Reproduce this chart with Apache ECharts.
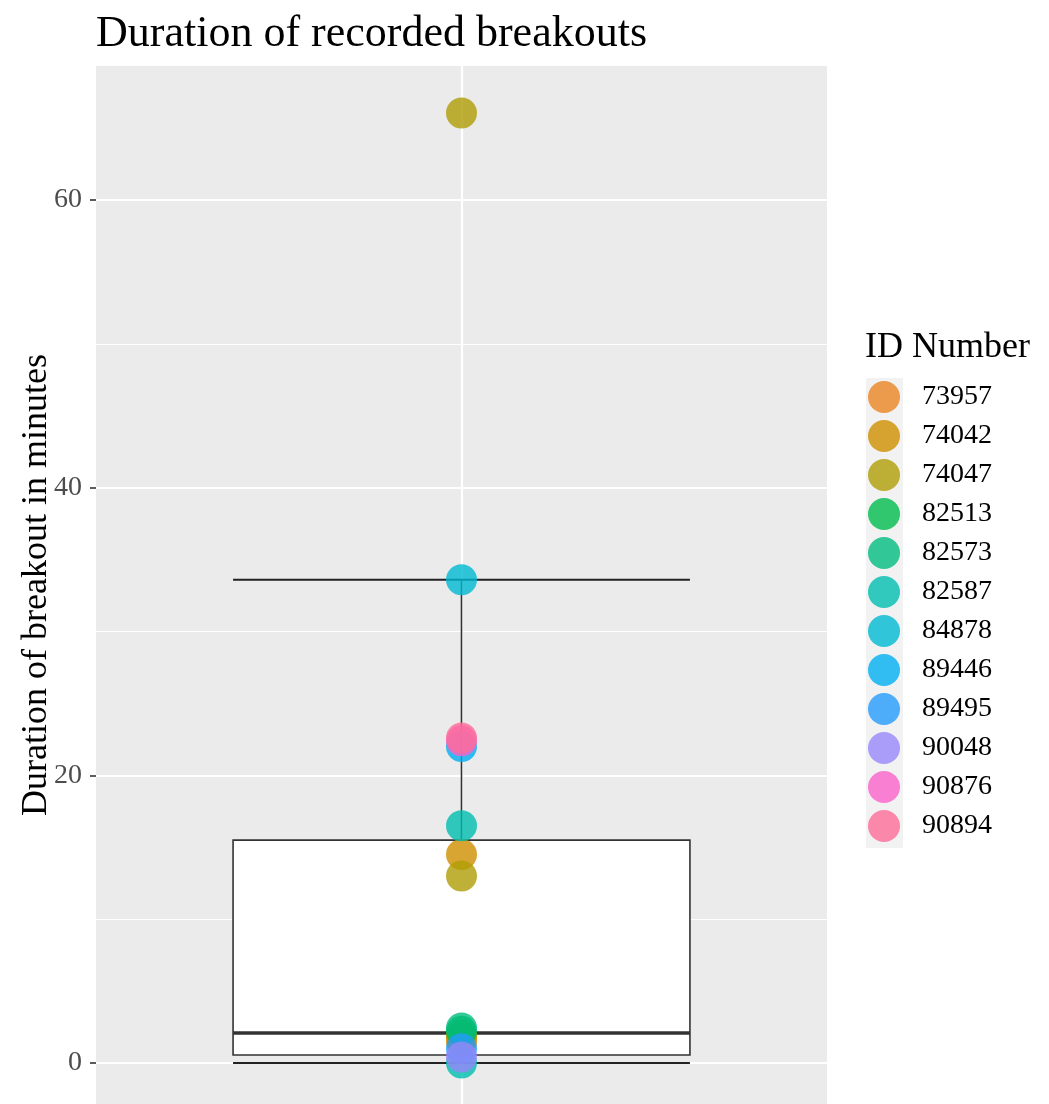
<!DOCTYPE html>
<html>
<head>
<meta charset="utf-8">
<script src="https://cdn.jsdelivr.net/npm/echarts@6/dist/echarts.min.js"></script>
<style>html,body{margin:0;padding:0;background:#fff}#c{width:1049px;height:1104px}</style>
</head>
<body>
<div id="c"></div>
<script>
// ---- data ----
var ids = ['73957','74042','74047','82513','82573','82587','84878','89446','89495','90048','90876','90894'];
var idColors = ['#E88420','#CE8F00','#AF9E05','#00BB4D','#00BB7F','#00BEAF','#00B9D2','#00AFF0','#249BFC','#9687FA','#FA61CA','#FC6B98'];
var durations = {
  '73957': [1.7],
  '74042': [14.5, 1.5],
  '74047': [66.05, 13.0, 1.95],
  '82513': [2.2],
  '82573': [2.43],
  '82587': [16.5, 0.0],
  '84878': [33.6],
  '89446': [22.0],
  '89495': [1.0],
  '90048': [0.42],
  '90876': [22.4],
  '90894': [22.6]
};
// box stats: [lowerWhisker, Q1, median, Q3, upperWhisker]
var boxStats = [0, 0.56, 2.09, 15.5, 33.6];
var yTicks = [0, 20, 40, 60];
var yMinorGrid = [10, 30, 50];

var chart = echarts.init(document.getElementById('c'), null, {renderer: 'canvas'});
var serif = '"Liberation Serif", "Times New Roman", serif';

var series = [];
// grid lines + boxplot
series.push({
  type: 'custom',
  name: '_box',
  z: 2,
  silent: true,
  data: [[1].concat(boxStats)],
  renderItem: function (params, api) {
    var x = api.value(0);
    var lo = api.value(1), q1 = api.value(2), med = api.value(3), q3 = api.value(4), hi = api.value(5);
    var hw = 0.375;
    var pL = api.coord([x - hw, q1]);
    var pR = api.coord([x + hw, q3]);
    var pLo = api.coord([x, lo]);
    var pHi = api.coord([x, hi]);
    var pMed = api.coord([x, med]);
    var cx = api.coord([x, 0])[0];
    var left = pL[0], right = pR[0];
    var stroke = {stroke: '#333333', lineWidth: 1.6};
    return {
      type: 'group',
      children: [
        {type: 'line', shape: {x1: left, y1: pHi[1], x2: right, y2: pHi[1]}, style: {stroke: '#222', lineWidth: 2}},
        {type: 'line', shape: {x1: left, y1: pLo[1], x2: right, y2: pLo[1]}, style: {stroke: '#222', lineWidth: 2}},
        {type: 'line', shape: {x1: cx, y1: pHi[1], x2: cx, y2: pR[1]}, style: stroke},
        {type: 'line', shape: {x1: cx, y1: pLo[1], x2: cx, y2: pL[1]}, style: stroke},
        {type: 'rect', shape: {x: left, y: pR[1], width: right - left, height: pL[1] - pR[1]}, style: {fill: '#ffffff', stroke: '#333333', lineWidth: 1.6}},
        {type: 'line', shape: {x1: left, y1: pMed[1], x2: right, y2: pMed[1]}, style: {stroke: '#333333', lineWidth: 3.4}}
      ]
    };
  },
  markLine: {
    silent: true,
    symbol: 'none',
    label: {show: false},
    z: 0,
    data: yMinorGrid.map(function (v) { return {yAxis: v, lineStyle: {color: '#ffffff', width: 1, type: 'solid'}}; })
      .concat(yTicks.map(function (v) { return {yAxis: v, lineStyle: {color: '#ffffff', width: 2.2, type: 'solid'}}; }))
      .concat([{xAxis: 1, lineStyle: {color: '#ffffff', width: 2.2, type: 'solid'}}])
  }
});

ids.forEach(function (id, i) {
  series.push({
    type: 'scatter',
    name: id,
    z: 5,
    symbol: 'circle',
    symbolSize: 31,
    itemStyle: {color: idColors[i], opacity: 0.8},
    emphasis: {disabled: true},
    data: durations[id].map(function (v) { return [1, v]; })
  });
});

var option = {
  animation: false,
  backgroundColor: '#ffffff',
  title: {
    text: 'Duration of recorded breakouts',
    left: 96, top: 12, padding: 0,
    textStyle: {fontFamily: serif, fontSize: 44, fontWeight: 'normal', color: '#000'}
  },
  grid: {left: 96, right: 222, top: 66, bottom: 0, show: true, backgroundColor: '#EBEBEB', borderWidth: 0},
  xAxis: {
    type: 'value', min: 0.4, max: 1.6,
    axisLine: {show: false}, axisTick: {show: false}, axisLabel: {show: false}, splitLine: {show: false}
  },
  yAxis: {
    type: 'value', min: -2.85, max: 69.32,
    name: 'Duration of breakout in minutes',
    nameLocation: 'middle', nameGap: 41, nameRotate: 90,
    nameMoveOverlap: false,
    nameTextStyle: {fontFamily: serif, fontSize: 36, color: '#000'},
    axisLine: {show: false},
    splitLine: {show: false},
    axisTick: {show: true, customValues: yTicks, length: 6, lineStyle: {color: '#333', width: 1.6}},
    axisLabel: {show: true, customValues: yTicks, margin: 14, fontFamily: serif, fontSize: 28, color: '#4D4D4D'}
  },
  legend: {
    orient: 'vertical',
    left: 868, top: 381, padding: 0,
    itemWidth: 32, itemHeight: 32, itemGap: 7,
    icon: 'circle',
    data: ids,
    selectedMode: false,
    textStyle: {fontFamily: serif, fontSize: 28, color: '#000', padding: [0, 0, 0, 17]}
  },
  graphic: [
    {type: 'text', left: 865, top: 330, style: {text: 'ID Number', fontFamily: serif, fontSize: 36, fill: '#000'}},
    {type: 'rect', left: 866, top: 378, z: -1, shape: {width: 37, height: 470}, style: {fill: '#F2F2F2'}}
  ],
  series: series
};
chart.setOption(option);
</script>
</body>
</html>
